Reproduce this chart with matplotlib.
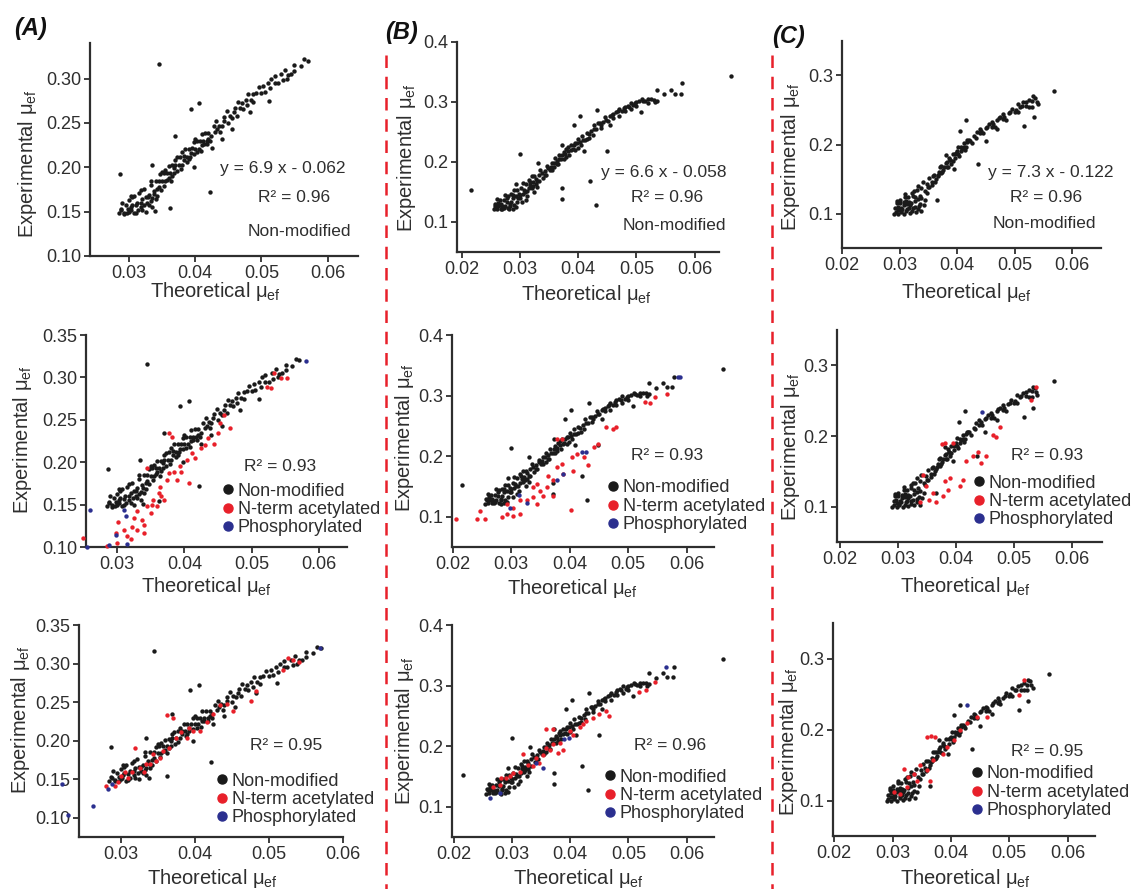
import matplotlib
matplotlib.use("Agg")
import matplotlib.pyplot as plt
from matplotlib.lines import Line2D

plt.rcParams["font.family"] = ["Liberation Sans", "DejaVu Sans"]
plt.rcParams["mathtext.fontset"] = "custom"
plt.rcParams["mathtext.rm"] = "Liberation Sans"
plt.rcParams["mathtext.it"] = "Liberation Sans:italic"

W, H = 1133, 889
BLACK, RED, BLUE = "#1a1a1a", "#e8202a", "#2b2f8f"
AXC = "#2e2e2e"

# ---------------- data ----------------
# column A, non-modified peptides (same in all three rows)
a_black_x = [0.0285, 0.02875, 0.0290, 0.02925, 0.0295, 0.02975, 0.0300, 0.03025, 0.0305, 0.03075,
             0.0310, 0.03125, 0.0315, 0.03175, 0.0320, 0.03225, 0.0325, 0.03275, 0.0330, 0.03325,
             0.0335, 0.03375, 0.0340, 0.0340,
             0.03425, 0.0345, 0.03475, 0.0350, 0.03525, 0.0355, 0.03575, 0.0360, 0.03625, 0.0365,
             0.03675, 0.0370, 0.03725, 0.0375, 0.03775, 0.0380, 0.03825, 0.0385, 0.03875, 0.0390,
             0.03925, 0.0395, 0.03975, 0.0400, 0.04025, 0.0405, 0.04075, 0.0410, 0.04125, 0.0415,
             0.04175, 0.0420,
             0.0424, 0.0428, 0.0432, 0.0436, 0.0440, 0.0444, 0.0448, 0.0452, 0.0456, 0.0460,
             0.0464, 0.0468, 0.0472, 0.0476, 0.0480, 0.0484, 0.0488, 0.0492, 0.0496, 0.0500,
             0.0505, 0.0510, 0.0515, 0.0520, 0.0525, 0.0530, 0.0535, 0.0540, 0.0545, 0.0550,
             0.0560, 0.0565, 0.0570,
             0.0300, 0.0305, 0.0310, 0.0320, 0.0325, 0.0330, 0.0335, 0.0345, 0.0350, 0.0355,
             0.0360, 0.0365, 0.0370, 0.0380, 0.0390, 0.0400, 0.0410, 0.0420, 0.0430, 0.0450,
             0.0470, 0.0520, 0.0532, 0.0538, 0.0550,
             0.0288, 0.0293, 0.0298, 0.0303, 0.0308, 0.0313, 0.0318, 0.0323, 0.0328, 0.0333,
             0.0338, 0.0343, 0.0348, 0.0353, 0.0358, 0.0363, 0.0368, 0.0373, 0.0378, 0.0383,
             0.0388, 0.0393, 0.0398, 0.0403, 0.0408, 0.0413, 0.0418, 0.0423, 0.0433, 0.0438,
             0.0443, 0.0458, 0.0463, 0.0478, 0.0488, 0.0503, 0.0513, 0.0333, 0.0318, 0.0303,
             0.0345, 0.0287, 0.0394, 0.0406, 0.0422, 0.0362, 0.0339, 0.0334, 0.0369, 0.0511,
             0.0483, 0.0440, 0.0398, 0.0425, 0.0455]
a_black_y = [0.148, 0.153, 0.160, 0.149, 0.158, 0.148, 0.163, 0.152, 0.158, 0.168,
             0.149, 0.160, 0.171, 0.155, 0.164, 0.176, 0.150, 0.160, 0.169, 0.180,
             0.155, 0.173, 0.185, 0.164,
             0.175, 0.185, 0.192, 0.184, 0.193, 0.184, 0.193, 0.201, 0.193, 0.202,
             0.193, 0.203, 0.211, 0.203, 0.212, 0.203, 0.213, 0.221, 0.212, 0.221,
             0.212, 0.222, 0.229, 0.221, 0.230, 0.221, 0.230, 0.238, 0.230, 0.239,
             0.230, 0.239,
             0.235, 0.246, 0.252, 0.247, 0.246, 0.257, 0.263, 0.258, 0.256, 0.267,
             0.273, 0.267, 0.266, 0.276, 0.282, 0.276, 0.274, 0.284, 0.290, 0.284,
             0.285, 0.295, 0.300, 0.295, 0.295, 0.305, 0.310, 0.304, 0.305, 0.315,
             0.314, 0.322, 0.320,
             0.150, 0.166, 0.157, 0.152, 0.166, 0.158, 0.165, 0.178, 0.195, 0.197,
             0.188, 0.190, 0.208, 0.217, 0.209, 0.232, 0.225, 0.232, 0.240, 0.250,
             0.272, 0.303, 0.298, 0.300, 0.309,
             0.152, 0.147, 0.153, 0.155, 0.148, 0.152, 0.160, 0.158, 0.166, 0.162,
             0.170, 0.168, 0.174, 0.179, 0.186, 0.184, 0.199, 0.196, 0.198, 0.208,
             0.206, 0.216, 0.215, 0.217, 0.218, 0.226, 0.226, 0.230, 0.243, 0.240,
             0.252, 0.262, 0.258, 0.270, 0.283, 0.292, 0.289, 0.185, 0.174, 0.168,
             0.316, 0.192, 0.266, 0.272, 0.172, 0.154, 0.151, 0.203, 0.235, 0.275,
             0.262, 0.232, 0.200, 0.222, 0.243]

# column A, N-term acetylated, uncorrected (middle) and corrected (bottom)
a_red_mid_x = [0.0250, 0.0285, 0.0298, 0.0302, 0.0310, 0.0315, 0.0320, 0.0325, 0.0330, 0.0340,
               0.0330, 0.0337, 0.0345, 0.0354, 0.0350, 0.0362, 0.0359, 0.0364, 0.0374, 0.0369,
               0.0377, 0.0384, 0.0389, 0.0394, 0.0406, 0.0404, 0.0411, 0.0424, 0.0431, 0.0444,
               0.0449, 0.0453, 0.0468, 0.0458, 0.0377, 0.0382, 0.0345, 0.0523, 0.0528, 0.0543,
               0.0552, 0.0533, 0.0300, 0.0340, 0.0352, 0.0322, 0.0365, 0.0395, 0.0415, 0.0435]
a_red_mid_y = [0.111, 0.101, 0.116, 0.130, 0.120, 0.113, 0.109, 0.134, 0.120, 0.116,
               0.142, 0.132, 0.148, 0.156, 0.140, 0.164, 0.148, 0.171, 0.179, 0.156,
               0.187, 0.189, 0.179, 0.195, 0.175, 0.203, 0.211, 0.217, 0.220, 0.222,
               0.234, 0.246, 0.240, 0.256, 0.234, 0.230, 0.193, 0.289, 0.288, 0.299,
               0.299, 0.305, 0.105, 0.126, 0.150, 0.124, 0.160, 0.188, 0.205, 0.228]
a_red_bot_x = [0.0281, 0.0292, 0.0297, 0.0306, 0.0315, 0.0319, 0.0326, 0.0335, 0.0344, 0.0348,
               0.0357, 0.0362, 0.0371, 0.0375, 0.0382, 0.0393, 0.0398, 0.0416, 0.0425, 0.0434,
               0.0443, 0.0452, 0.0476, 0.0483, 0.0519, 0.0533, 0.0526, 0.0540, 0.0310, 0.0331,
               0.0340, 0.0353, 0.0366, 0.0389, 0.0407, 0.0301]
a_red_bot_y = [0.141, 0.141, 0.146, 0.159, 0.159, 0.191, 0.165, 0.170, 0.183, 0.174,
               0.187, 0.233, 0.230, 0.204, 0.211, 0.217, 0.213, 0.224, 0.235, 0.246,
               0.248, 0.239, 0.252, 0.265, 0.291, 0.304, 0.307, 0.302, 0.152, 0.159,
               0.170, 0.178, 0.191, 0.204, 0.213, 0.154]
a_blue_mid_x = [0.0260, 0.0256, 0.0310, 0.0314, 0.0298, 0.0288, 0.0315, 0.0580]
a_blue_mid_y = [0.144, 0.100, 0.144, 0.137, 0.114, 0.102, 0.104, 0.319]
a_blue_bot_x = [0.0221, 0.0229, 0.0263, 0.0283, 0.0288, 0.0569]
a_blue_bot_y = [0.144, 0.103, 0.115, 0.137, 0.144, 0.320]

# column B, non-modified
b_black_x = [0.0255, 0.02575, 0.0260, 0.02625, 0.0265, 0.02675, 0.0270, 0.02725, 0.0275, 0.02775,
             0.0280, 0.02825, 0.0285, 0.02875, 0.0290, 0.02925, 0.0295, 0.02975, 0.0300, 0.03025,
             0.0305, 0.03075, 0.0310, 0.03125, 0.0315, 0.03175, 0.0320, 0.03225, 0.0325, 0.03275,
             0.0330, 0.03325, 0.0335,
             0.0260, 0.0265, 0.0270, 0.0275, 0.0280, 0.0285, 0.0290, 0.0295, 0.0300, 0.0305,
             0.0310, 0.0315, 0.0320, 0.0325, 0.0330, 0.0288, 0.0282,
             0.0339, 0.0343, 0.0347, 0.0351, 0.0355, 0.0359, 0.0363, 0.0367, 0.0371, 0.0375,
             0.0379, 0.0383, 0.0387, 0.0391, 0.0395, 0.0399, 0.0403, 0.0407, 0.0411, 0.0415,
             0.0419, 0.0423, 0.0427, 0.0431, 0.0435, 0.0439, 0.0443, 0.0447, 0.0451, 0.0455,
             0.0460, 0.0465, 0.0470, 0.0475, 0.0480, 0.0485, 0.0490, 0.0495, 0.0500, 0.0505,
             0.0510, 0.0515, 0.0520, 0.0525, 0.0530, 0.0535,
             0.0345, 0.0355, 0.0365, 0.0375, 0.0385, 0.0395, 0.0405, 0.0415, 0.0425, 0.0360,
             0.0380, 0.0400, 0.0440, 0.0460, 0.0480, 0.0500, 0.0520, 0.0532, 0.0470, 0.0490,
             0.0258, 0.0263, 0.0268, 0.0273, 0.0278, 0.0283, 0.0288, 0.0293, 0.0298, 0.0303,
             0.0308, 0.0313, 0.0318, 0.0323, 0.0328, 0.0333, 0.0338, 0.0343, 0.0348, 0.0353,
             0.0358, 0.0363, 0.0368, 0.0373, 0.0378, 0.0383, 0.0388, 0.0393, 0.0398, 0.0408,
             0.0418, 0.0428, 0.0438, 0.0448, 0.0458, 0.0468, 0.0478, 0.0488, 0.0498, 0.0512,
             0.0662, 0.0216, 0.0300, 0.0393, 0.0403, 0.0433, 0.0373, 0.0421, 0.0430, 0.0372,
             0.0372, 0.0449, 0.0331, 0.0294, 0.0536, 0.0547, 0.0560, 0.0566, 0.0576, 0.0579,
             0.0508, 0.0455, 0.0410]
b_black_y = [0.121, 0.130, 0.138, 0.127, 0.136, 0.122, 0.126, 0.136, 0.145, 0.134,
             0.144, 0.130, 0.134, 0.145, 0.153, 0.143, 0.153, 0.140, 0.145, 0.156,
             0.165, 0.154, 0.164, 0.151, 0.156, 0.167, 0.176, 0.166, 0.176, 0.163,
             0.168, 0.179, 0.187,
             0.122, 0.128, 0.122, 0.127, 0.123, 0.146, 0.128, 0.133, 0.140, 0.147,
             0.137, 0.170, 0.157, 0.150, 0.158, 0.122, 0.121,
             0.174, 0.185, 0.194, 0.187, 0.198, 0.191, 0.202, 0.212, 0.205, 0.216,
             0.208, 0.219, 0.228, 0.221, 0.231, 0.223, 0.234, 0.244, 0.237, 0.248,
             0.240, 0.252, 0.261, 0.255, 0.265, 0.257, 0.267, 0.275, 0.269, 0.277,
             0.274, 0.283, 0.288, 0.285, 0.285, 0.294, 0.299, 0.295, 0.293, 0.301,
             0.305, 0.301, 0.299, 0.305, 0.304, 0.302,
             0.178, 0.187, 0.196, 0.205, 0.212, 0.220, 0.228, 0.238, 0.245, 0.206,
             0.222, 0.238, 0.262, 0.280, 0.292, 0.300, 0.305, 0.300, 0.276, 0.288,
             0.127, 0.132, 0.130, 0.124, 0.140, 0.127, 0.140, 0.125, 0.147, 0.133,
             0.150, 0.143, 0.162, 0.160, 0.172, 0.168, 0.182, 0.178, 0.190, 0.192,
             0.198, 0.196, 0.205, 0.212, 0.214, 0.225, 0.220, 0.228, 0.232, 0.237,
             0.247, 0.255, 0.265, 0.270, 0.278, 0.285, 0.290, 0.292, 0.298, 0.302,
             0.344, 0.153, 0.214, 0.261, 0.276, 0.287, 0.228, 0.168, 0.128, 0.138,
             0.156, 0.219, 0.199, 0.164, 0.320, 0.313, 0.320, 0.314, 0.314, 0.331,
             0.283, 0.262, 0.218]

b_red_mid_x = [0.0205, 0.0242, 0.0247, 0.0256, 0.0284, 0.0293, 0.0304, 0.0316, 0.0327, 0.0338,
               0.0344, 0.0350, 0.0361, 0.0355, 0.0372, 0.0364, 0.0378, 0.0387, 0.0389, 0.0404,
               0.0412, 0.0424, 0.0432, 0.0441, 0.0449, 0.0463, 0.0475, 0.0480, 0.0378, 0.0387,
               0.0402, 0.0372, 0.0338, 0.0316, 0.0293, 0.0304, 0.0529, 0.0537, 0.0546, 0.0566,
               0.0344, 0.0406]
b_red_mid_y = [0.096, 0.096, 0.110, 0.096, 0.099, 0.104, 0.115, 0.104, 0.127, 0.132,
               0.121, 0.143, 0.149, 0.135, 0.160, 0.168, 0.182, 0.187, 0.171, 0.198,
               0.204, 0.198, 0.185, 0.215, 0.220, 0.248, 0.245, 0.248, 0.229, 0.229,
               0.111, 0.135, 0.149, 0.127, 0.121, 0.102, 0.289, 0.287, 0.298, 0.303,
               0.154, 0.176]
b_red_bot_x = [0.0267, 0.0279, 0.0290, 0.0302, 0.0313, 0.0319, 0.0327, 0.0342, 0.0353, 0.0359,
               0.0370, 0.0382, 0.0359, 0.0370, 0.0399, 0.0405, 0.0416, 0.0427, 0.0439, 0.0450,
               0.0467, 0.0462, 0.0519, 0.0530, 0.0545, 0.0282, 0.0296, 0.0336, 0.0347, 0.0387,
               0.0379, 0.0365, 0.0422]
b_red_bot_y = [0.133, 0.136, 0.147, 0.156, 0.158, 0.187, 0.169, 0.181, 0.186, 0.197,
               0.203, 0.206, 0.229, 0.229, 0.225, 0.219, 0.231, 0.242, 0.247, 0.253,
               0.250, 0.258, 0.289, 0.292, 0.306, 0.147, 0.150, 0.167, 0.172, 0.194,
               0.189, 0.194, 0.236]
b_blue_mid_x = [0.0586, 0.0589, 0.0428, 0.0421, 0.0388, 0.0378, 0.0313, 0.0327, 0.0298]
b_blue_mid_y = [0.330, 0.330, 0.207, 0.207, 0.171, 0.160, 0.136, 0.123, 0.115]
b_blue_bot_x = [0.0262, 0.0279, 0.0342, 0.0353, 0.0390, 0.0398, 0.0565]
b_blue_bot_y = [0.115, 0.122, 0.172, 0.164, 0.211, 0.214, 0.331]

# column C, non-modified
c_black_x = [0.0290, 0.02925, 0.0295, 0.02975, 0.0300, 0.03025, 0.0305, 0.03075, 0.0310, 0.03125,
             0.0315, 0.03175, 0.0320, 0.03225, 0.0325, 0.03275, 0.0330, 0.03325, 0.0335, 0.03375,
             0.0340,
             0.0298, 0.0303, 0.0308, 0.0313, 0.0318, 0.0323, 0.0328, 0.0333, 0.0338, 0.0312,
             0.0322, 0.0332, 0.0300, 0.0310,
             0.0344, 0.0348, 0.0352, 0.0356, 0.0360, 0.0364, 0.0368, 0.0372, 0.0376, 0.0380,
             0.0384, 0.0388, 0.0392, 0.0396, 0.0400, 0.0404, 0.0408, 0.0412, 0.0416, 0.0420,
             0.0425, 0.0430, 0.0435, 0.0440, 0.0445, 0.0450, 0.0455, 0.0460, 0.0465, 0.0470,
             0.0475, 0.0480, 0.0485, 0.0490, 0.0495, 0.0500, 0.0505, 0.0510, 0.0515, 0.0520,
             0.0525, 0.0530, 0.0535,
             0.0350, 0.0358, 0.0366, 0.0374, 0.0382, 0.0390, 0.0398, 0.0406, 0.0414, 0.0370,
             0.0386, 0.0402, 0.0418, 0.0440, 0.0460, 0.0480,
             0.0293, 0.0297, 0.0302, 0.0307, 0.0312, 0.0317, 0.0322, 0.0327, 0.0332, 0.0337,
             0.0342, 0.0347, 0.0352, 0.0357, 0.0362, 0.0367, 0.0372, 0.0377, 0.0382, 0.0387,
             0.0392, 0.0397, 0.0402, 0.0407, 0.0412, 0.0417, 0.0422, 0.0432, 0.0442, 0.0452,
             0.0462, 0.0472, 0.0482, 0.0492, 0.0502, 0.0512, 0.0336, 0.0326, 0.0316, 0.0345,
             0.0530, 0.0532, 0.0538, 0.0540, 0.0525, 0.0520, 0.0505,
             0.0569, 0.0416, 0.0405, 0.0436, 0.0517, 0.0533, 0.0365, 0.0295, 0.0450, 0.0470,
             0.0395, 0.0380]
c_black_y = [0.100, 0.108, 0.115, 0.105, 0.115, 0.102, 0.106, 0.116, 0.124, 0.114,
             0.124, 0.112, 0.115, 0.126, 0.133, 0.124, 0.134, 0.121, 0.126, 0.137,
             0.145,
             0.100, 0.108, 0.100, 0.106, 0.101, 0.108, 0.102, 0.111, 0.103, 0.118,
             0.130, 0.140, 0.120, 0.128,
             0.133, 0.143, 0.152, 0.146, 0.156, 0.150, 0.160, 0.169, 0.163, 0.173,
             0.167, 0.177, 0.186, 0.180, 0.190, 0.183, 0.194, 0.202, 0.196, 0.206,
             0.202, 0.212, 0.218, 0.216, 0.216, 0.224, 0.230, 0.226, 0.226, 0.235,
             0.240, 0.237, 0.236, 0.245, 0.251, 0.247, 0.247, 0.255, 0.261, 0.256,
             0.255, 0.263, 0.268,
             0.138, 0.155, 0.154, 0.160, 0.175, 0.172, 0.188, 0.190, 0.192, 0.168,
             0.181, 0.197, 0.206, 0.222, 0.232, 0.244,
             0.102, 0.110, 0.104, 0.112, 0.103, 0.116, 0.104, 0.118, 0.106, 0.122,
             0.112, 0.130, 0.138, 0.142, 0.146, 0.156, 0.158, 0.168, 0.168, 0.178,
             0.176, 0.186, 0.186, 0.196, 0.196, 0.203, 0.205, 0.210, 0.220, 0.226,
             0.230, 0.238, 0.240, 0.247, 0.250, 0.256, 0.114, 0.110, 0.108, 0.120,
             0.255, 0.270, 0.262, 0.258, 0.265, 0.262, 0.258,
             0.278, 0.235, 0.220, 0.172, 0.227, 0.240, 0.120, 0.118, 0.205, 0.222,
             0.165, 0.185]

c_red_mid_x = [0.0375, 0.0381, 0.0394, 0.0343, 0.0348, 0.0360, 0.0354, 0.0337, 0.0366, 0.0377,
               0.0386, 0.0380, 0.0406, 0.0411, 0.0417, 0.0429, 0.0437, 0.0452, 0.0443, 0.0469,
               0.0475, 0.0463, 0.0538, 0.0529, 0.0389]
c_red_mid_y = [0.189, 0.190, 0.190, 0.145, 0.129, 0.120, 0.110, 0.106, 0.106, 0.115,
               0.124, 0.136, 0.129, 0.138, 0.164, 0.171, 0.178, 0.172, 0.162, 0.199,
               0.213, 0.202, 0.270, 0.251, 0.141]
c_red_bot_x = [0.0359, 0.0366, 0.0373, 0.0319, 0.0336, 0.0302, 0.0313, 0.0325, 0.0342, 0.0359,
               0.0370, 0.0387, 0.0405, 0.0416, 0.0427, 0.0445, 0.0462, 0.0393, 0.0347, 0.0365,
               0.0525, 0.0516, 0.0327]
c_red_bot_y = [0.190, 0.191, 0.190, 0.145, 0.138, 0.112, 0.109, 0.119, 0.128, 0.143,
               0.157, 0.166, 0.185, 0.200, 0.209, 0.218, 0.218, 0.176, 0.150, 0.128,
               0.270, 0.249, 0.133]
c_blue_mid_x = [0.0445]
c_blue_mid_y = [0.234]
c_blue_bot_x = [0.0427]
c_blue_bot_y = [0.235]

legend_labels = ["Non-modified", "N-term acetylated", "Phosphorylated"]

# ---------------- layout (pixel boxes: left, right, top, bottom) ----------------
panels = [
    # column A
    dict(box=(90, 358, 43, 256), xlim=(0.0241, 0.0646), ylim=(0.10, 0.34),
         yticks=[0.10, 0.15, 0.20, 0.25, 0.30], xticks=[0.03, 0.04, 0.05, 0.06], yfmt="{:.2f}",
         black=(a_black_x, a_black_y), red=None, blue=None),
    dict(box=(86, 347, 335, 547), xlim=(0.0254, 0.0641), ylim=(0.10, 0.35),
         yticks=[0.10, 0.15, 0.20, 0.25, 0.30, 0.35], xticks=[0.03, 0.04, 0.05, 0.06], yfmt="{:.2f}",
         black=(a_black_x, a_black_y), red=(a_red_mid_x, a_red_mid_y), blue=(a_blue_mid_x, a_blue_mid_y)),
    dict(box=(79, 343, 625, 837), xlim=(0.0244, 0.060), ylim=(0.075, 0.35),
         yticks=[0.10, 0.15, 0.20, 0.25, 0.30, 0.35], xticks=[0.03, 0.04, 0.05, 0.06], yfmt="{:.2f}",
         black=(a_black_x, a_black_y), red=(a_red_bot_x, a_red_bot_y), blue=(a_blue_bot_x, a_blue_bot_y)),
    # column B
    dict(box=(457, 719, 42, 252), xlim=(0.0192, 0.0642), ylim=(0.05, 0.40),
         yticks=[0.1, 0.2, 0.3, 0.4], xticks=[0.02, 0.03, 0.04, 0.05, 0.06], yfmt="{:.1f}",
         black=(b_black_x, b_black_y), red=None, blue=None),
    dict(box=(452, 714, 335, 547), xlim=(0.0199, 0.0647), ylim=(0.05, 0.40),
         yticks=[0.1, 0.2, 0.3, 0.4], xticks=[0.02, 0.03, 0.04, 0.05, 0.06], yfmt="{:.1f}",
         black=(b_black_x, b_black_y), red=(b_red_mid_x, b_red_mid_y), blue=(b_blue_mid_x, b_blue_mid_y)),
    dict(box=(452, 714, 625, 837), xlim=(0.0197, 0.0647), ylim=(0.05, 0.40),
         yticks=[0.1, 0.2, 0.3, 0.4], xticks=[0.02, 0.03, 0.04, 0.05, 0.06], yfmt="{:.1f}",
         black=(b_black_x, b_black_y), red=(b_red_bot_x, b_red_bot_y), blue=(b_blue_bot_x, b_blue_bot_y)),
    # column C
    dict(box=(842, 1101, 41, 248), xlim=(0.0202, 0.065), ylim=(0.05, 0.35),
         yticks=[0.1, 0.2, 0.3], xticks=[0.02, 0.03, 0.04, 0.05, 0.06], yfmt="{:.1f}",
         black=(c_black_x, c_black_y), red=None, blue=None),
    dict(box=(837, 1102, 330, 542), xlim=(0.0195, 0.0651), ylim=(0.05, 0.35),
         yticks=[0.1, 0.2, 0.3], xticks=[0.02, 0.03, 0.04, 0.05, 0.06], yfmt="{:.1f}",
         black=(c_black_x, c_black_y), red=(c_red_mid_x, c_red_mid_y), blue=(c_blue_mid_x, c_blue_mid_y)),
    dict(box=(833, 1095, 623, 836), xlim=(0.0198, 0.0647), ylim=(0.05, 0.35),
         yticks=[0.1, 0.2, 0.3], xticks=[0.02, 0.03, 0.04, 0.05, 0.06], yfmt="{:.1f}",
         black=(c_black_x, c_black_y), red=(c_red_bot_x, c_red_bot_y), blue=(c_blue_bot_x, c_blue_bot_y)),
]

# axis-title centres in pixels: (ylabel x, ylabel y, xlabel x, xlabel y)
label_pos = [(28, 164, 215, 292), (23, 440, 206, 587), (21, 720, 212, 878),
             (407, 158, 586, 294), (405, 438, 572, 588), (405, 731, 578, 878),
             (790, 157, 966, 293), (790, 447, 965, 587), (788, 742, 965, 879)]
# legend: (dot x, first row y) in pixels, for panels that have one
legend_pos = {1: (228, 493), 2: (222, 783), 4: (613, 490), 5: (610, 779), 7: (979, 485), 8: (977, 776)}
# R² / equation texts: (text, x, y)
notes = {0: [("y = 6.9 x - 0.062", 283, 168), ("R² = 0.96", 294, 198), ("Non-modified", 299, 232)],
         1: [("R² = 0.93", 280, 466)],
         2: [("R² = 0.95", 286, 745)],
         3: [("y = 6.6 x - 0.058", 664, 173), ("R² = 0.96", 667, 197), ("Non-modified", 674, 225)],
         4: [("R² = 0.93", 667, 456)],
         5: [("R² = 0.96", 670, 745)],
         6: [("y = 7.3 x - 0.122", 1051, 173), ("R² = 0.96", 1046, 197), ("Non-modified", 1044, 223)],
         7: [("R² = 0.93", 1047, 456)],
         8: [("R² = 0.95", 1047, 751)]}


def fx(px):
    return px / W


def fy(py):
    return 1 - py / H


fig = plt.figure(figsize=(W / 100, H / 100), dpi=100, facecolor="white")

for i, p in enumerate(panels):
    l, r, t, b = p["box"]
    ax = fig.add_axes([fx(l), fy(b), (r - l) / W, (b - t) / H])
    ax.scatter(*p["black"], s=10, color=BLACK, linewidths=0, clip_on=False, zorder=2)
    if p["red"]:
        ax.scatter(*p["red"], s=10, color=RED, linewidths=0, clip_on=False, zorder=3)
    if p["blue"]:
        ax.scatter(*p["blue"], s=10, color=BLUE, linewidths=0, clip_on=False, zorder=4)
    ax.set_xlim(*p["xlim"])
    ax.set_ylim(*p["ylim"])
    ax.set_xticks(p["xticks"])
    ax.set_xticklabels([f"{v:.2f}" for v in p["xticks"]])
    ax.set_yticks(p["yticks"])
    ax.set_yticklabels([p["yfmt"].format(v) for v in p["yticks"]])
    for side in ("top", "right"):
        ax.spines[side].set_visible(False)
    for side in ("left", "bottom"):
        ax.spines[side].set_color(AXC)
        ax.spines[side].set_linewidth(1.6)
    ax.tick_params(direction="out", length=4.5, width=1.3, color=AXC,
                   labelsize=13, labelcolor=AXC, pad=2)

    ylx, yly, xlx, xly = label_pos[i]
    fig.text(fx(ylx), fy(yly), r"Experimental μ$_\mathregular{ef}$", rotation=90,
             ha="center", va="center", fontsize=14.5, color=AXC)
    fig.text(fx(xlx), fy(xly), r"Theoretical μ$_\mathregular{ef}$",
             ha="center", va="center", fontsize=14.5, color=AXC)

    for txt, tx, ty in notes[i]:
        fig.text(fx(tx), fy(ty), txt, ha="center", va="center", fontsize=12.5, color=AXC)

    if i in legend_pos:
        dx, dy = legend_pos[i]
        handles = [Line2D([], [], ls="", marker="o", markersize=6.5, color=c)
                   for c in (BLACK, RED, BLUE)]
        fig.legend(handles, legend_labels, loc="upper left",
                   bbox_to_anchor=(fx(dx - 5.5), fy(dy - 10.5)), bbox_transform=fig.transFigure,
                   frameon=False, fontsize=13, handlelength=0.6, handletextpad=0.25,
                   labelspacing=0.08, borderpad=0, borderaxespad=0, labelcolor=AXC)

# panel letters
for letter, lx, ly in [("(A)", 14, 29), ("(B)", 385, 33), ("(C)", 772, 37)]:
    fig.text(fx(lx), fy(ly), letter, ha="left", va="center", fontsize=17,
             fontweight="bold", fontstyle="italic", color="#111111")

# red dashed separators
for sx in (386, 772):
    fig.add_artist(Line2D([fx(sx), fx(sx)], [fy(55), 0], transform=fig.transFigure,
                          color=RED, lw=1.8, dashes=(5, 3.5)))

fig.savefig("out.png", dpi=100, facecolor="white")
